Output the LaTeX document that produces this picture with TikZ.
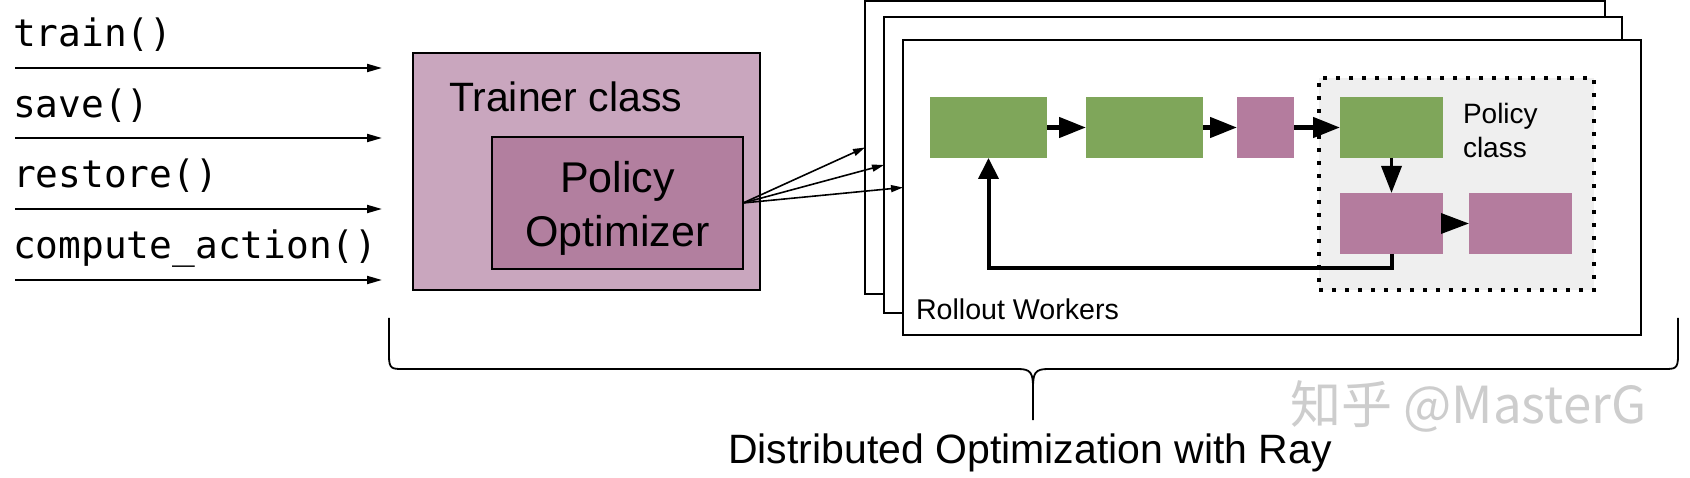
\documentclass[tikz,border=0pt]{standalone}
\usepackage{fontspec}
\setmainfont{Liberation Sans}
\newfontfamily\codefont{DejaVu Sans Mono}
\newfontfamily\cjkfont{Noto Sans CJK SC}
\usetikzlibrary{arrows.meta,calc}
\definecolor{trainerbg}{HTML}{C9A6BE}
\definecolor{optbg}{HTML}{B27F9F}
\definecolor{stepgreen}{HTML}{7FA65A}
\definecolor{steppurple}{HTML}{B47C9E}
\definecolor{policybg}{HTML}{EFEFEF}
\definecolor{wmgray}{HTML}{CDCDCD}
\begin{document}
\begin{tikzpicture}[x=1pt,y=-1pt,
  box/.style={draw, line width=2pt, inner sep=0pt, outer sep=0pt, anchor=north west},
  card/.style={box, fill=white},
  stepbox/.style={inner sep=0pt, outer sep=0pt, anchor=north west, minimum height=61pt},
  greenbox/.style={stepbox, fill=stepgreen},
  purplebox/.style={stepbox, fill=steppurple},
  bigarrow/.style={line width=4.5pt, -{Triangle[length=27pt,width=20pt]}},
  callarrow/.style={line width=2pt, -{Triangle[length=15pt,width=8pt]}},
  thinarrow/.style={line width=1.6pt, -{Triangle[length=12pt,width=7pt]}},
  code/.style={font=\codefont\fontsize{37.8}{44}\selectfont, anchor=base west, inner sep=0pt},
  txt/.style={inner sep=0pt, outer sep=0pt}
]
\useasboundingbox (0,0) rectangle (1690,478);
\fill[white] (0,0) rectangle (1690,478);

% method calls
\node[code] (ctrain) at (13,47) {train()};
\node[code] (csave) at (13,118) {save()};
\node[code] (crestore) at (13,188) {restore()};
\node[code] (ccompute) at (13,259) {compute\_action()};
\coordinate (a1s) at (15,68);  \coordinate (a1e) at (382,68);
\coordinate (a2s) at (15,138); \coordinate (a2e) at (382,138);
\coordinate (a3s) at (15,209); \coordinate (a3e) at (382,209);
\coordinate (a4s) at (15,280); \coordinate (a4e) at (382,280);
\draw[callarrow] (a1s) -- (a1e);
\draw[callarrow] (a2s) -- (a2e);
\draw[callarrow] (a3s) -- (a3e);
\draw[callarrow] (a4s) -- (a4e);

% trainer
\node[box, fill=trainerbg, minimum width=347pt, minimum height=237pt] (trainer) at (413,53) {};
\node[txt, anchor=base west, font=\fontsize{41}{48}\selectfont] (trainertxt) at (449,112) {Trainer class};
\node[box, fill=optbg, minimum width=251pt, minimum height=132pt] (po) at (492,137) {};
\node[txt, anchor=north, align=center, font=\fontsize{43}{54}\selectfont] (potxt) at (617.5,161) {Policy\\Optimizer};

% rollout worker cards
\node[card, minimum width=740pt, minimum height=293pt] (back) at (865,1) {};
\node[card, minimum width=738pt, minimum height=296pt] (middle) at (884,17) {};
\node[card, minimum width=738pt, minimum height=295pt] (front) at (903,40) {};
\node[txt, anchor=base west, font=\fontsize{28.6}{34}\selectfont] (rw) at (916,320) {Rollout Workers};

\draw[thinarrow] (po.east) -- (back.west);
\draw[thinarrow] (po.east) -- (middle.west);
\draw[thinarrow] (po.east) -- (front.west);

% policy class
\node[box, draw=black, fill=policybg, line width=4pt, dash pattern=on 4pt off 9pt, minimum width=275pt, minimum height=212pt] (policy) at (1319,78) {};
\node[txt, anchor=north west, align=left, font=\fontsize{28}{34}\selectfont] (policytxt) at (1463,103) {Policy\\class};

% steps
\node[greenbox, minimum width=117pt] (g1) at (930,97) {};
\node[greenbox, minimum width=117pt] (g2) at (1086,97) {};
\node[purplebox, minimum width=57pt] (p0) at (1237,97) {};
\node[greenbox, minimum width=103pt] (g3) at (1340,97) {};
\node[purplebox, minimum width=103pt] (pl1) at (1340,193) {};
\node[purplebox, minimum width=103pt] (pl2) at (1469,193) {};

\draw[bigarrow] (g1.east) -- (g2.west);
\draw[bigarrow] (g2.east) -- (p0.west);
\draw[bigarrow] (p0.east) -- (g3.west);
\draw[line width=3.5pt, -{Triangle[length=27pt,width=20pt]}] (g3.south) -- (pl1.north);
\draw[line width=3.5pt, -{Triangle[length=28pt,width=20pt]}] (pl1.east) -- (pl2.west);
\draw[line width=4pt, -{Triangle[length=21pt,width=20pt]}] (pl1.south) -- ++(0,14) -| (g1.south);

% brace
\coordinate (bl) at (389,318);
\coordinate (br) at (1678,318);
\coordinate (bt) at (1033,420);
\draw[line width=1.8pt, line join=round]
  (bl) -- (389,356) .. controls (389,369) and (392,369) .. (403,369)
  -- (1018,369) .. controls (1031,369) and (1033,373) .. (1033,388) -- (bt);
\draw[line width=1.8pt, line join=round]
  (br) -- (1678,356) .. controls (1678,369) and (1675,369) .. (1664,369)
  -- (1048,369) .. controls (1035,369) and (1033,373) .. (1033,388);
\node[txt, anchor=base, font=\fontsize{41}{49}\selectfont] (title) at (1030,463) {Distributed Optimization with Ray};

% watermark
\node[txt, anchor=west, text=wmgray, font=\cjkfont\fontsize{51}{58}\selectfont] (wm) at (1290,406) {知乎 @MasterG};
\end{tikzpicture}
\end{document}
